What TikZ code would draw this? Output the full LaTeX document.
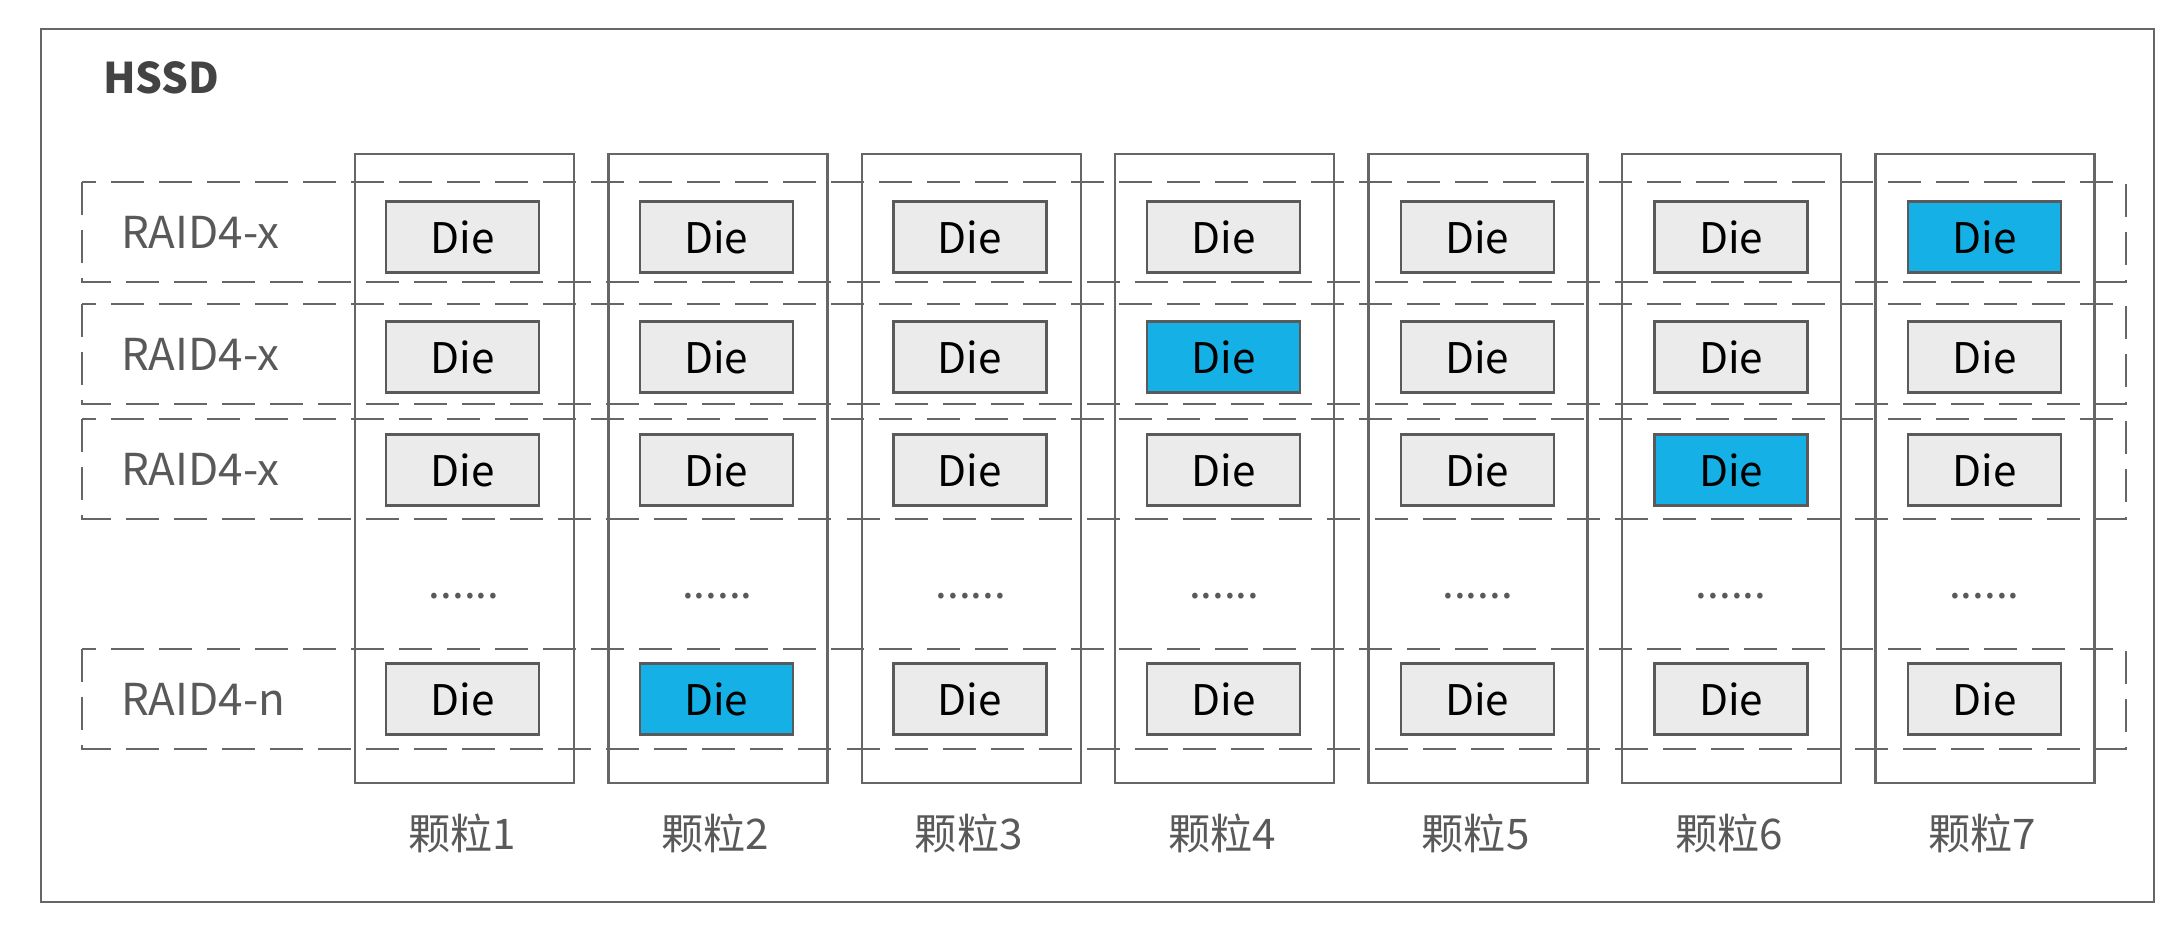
\documentclass[tikz,border=0pt]{standalone}
\usepackage{fontspec}
\setmainfont{Noto Sans CJK SC}
\definecolor{linegrey}{RGB}{102,102,102}
\definecolor{edgegrey}{RGB}{90,90,90}
\definecolor{diegrey}{RGB}{235,235,235}
\definecolor{dieblue}{RGB}{20,176,230}
\definecolor{textgrey}{RGB}{89,89,89}
\tikzset{
  die/.style={draw=edgegrey, fill=diegrey, line width=0.65pt, minimum width=1.53cm, minimum height=0.71cm, inner sep=0pt, font=\fontsize{12}{12}\selectfont},
  parity/.style={die, fill=dieblue},
  raidrow/.style={draw=linegrey, dash pattern=on 0.33cm off 0.15cm, line width=0.7pt},
  caption/.style={text=textgrey, inner sep=0pt, font=\fontsize{12.5}{12.5}\selectfont},
}

\begin{document}
\begin{tikzpicture}[x=0.01cm, y=-0.01cm, line width=0.7pt]
		\useasboundingbox (0,0) rectangle (2182,930);
		
		% Frame
		\draw[linegrey] (41,29) rectangle (2154,902);
		\node[caption, anchor=west, text=textgrey!75!black, font=\bfseries\fontsize{12}{12}\selectfont] (hssd) at (102,78) {HSSD};
		
		% Chips
		\foreach \i in {1,...,7} {
			\draw[linegrey] ({355+253.4*(\i-1)},154) rectangle ++(219,629);
			\node[caption, font=\fontsize{12}{12}\selectfont] (chip\i) at ({462+253.4*(\i-1)},833) {颗粒\i};
			\node[caption, anchor=base, font=\fontsize{12}{12}\selectfont] (dots\i) at ({464+253.4*(\i-1)},598) {......};
		}
		
		% RAID Rows
		\foreach \r/\y/\t in {1/232/x,2/354/x,3/469/x,4/699/n} {
			\draw[raidrow] (82,\y-50) rectangle (2126,\y+50);
			\node[caption, anchor=west] (raid\r) at (120,\y) {RAID4-\t};
		}
		
		% Dies
		\foreach \r/\y/\p in {1/237/7,2/357/4,3/470/6,4/699/2} {
			\foreach \i in {1,...,7} {
				\ifnum\i=\p \def\kind{parity}\else \def\kind{die}\fi
				\node[\kind] (die\r\i) at ({462.5+253.7*(\i-1)},\y) {Die};
			}
		}
	\end{tikzpicture}
\end{document}
